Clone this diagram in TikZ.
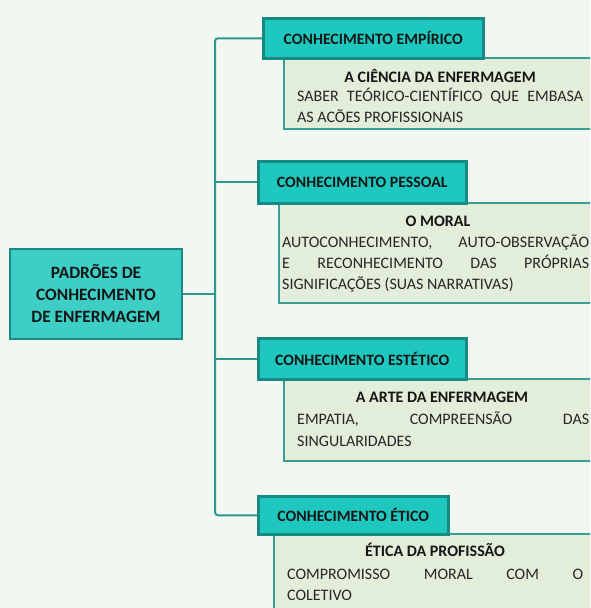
\documentclass[tikz,border=0pt]{standalone}
\usepackage{fontspec}
\setmainfont{Carlito}
\definecolor{bgc}{HTML}{F2F7F2}
\definecolor{tealfill}{HTML}{1FC8BF}
\definecolor{mainfill}{HTML}{3DCFC6}
\definecolor{tealline}{HTML}{168A83}
\definecolor{greenfill}{HTML}{E3EEDA}
\definecolor{greenline}{HTML}{3A9D94}
\definecolor{connc}{HTML}{2A9990}
\definecolor{inkdark}{HTML}{161616}
\definecolor{inkbody}{HTML}{262626}
\begin{document}
\begin{tikzpicture}[x=1pt,y=-1pt,
  mainbox/.style={draw=tealline, line width=2.5pt, fill=mainfill, inner sep=0pt,
    align=center, text=inkdark, font=\fontsize{17.3}{22}\selectfont\bfseries},
  headbox/.style={draw=tealline, line width=2.5pt, fill=tealfill, inner sep=0pt,
    text=inkdark, font=\fontsize{15.8}{18}\selectfont\bfseries},
  notebox/.style={draw=greenline, line width=2pt, fill=greenfill, inner sep=0pt},
  notetitle/.style={inner sep=0pt, anchor=base, text=inkdark,
    font=\fontsize{16}{18}\selectfont\bfseries},
  noteline/.style={inner sep=0pt, anchor=base west, text=inkbody,
    font=\fontsize{16}{18}\selectfont},
  conn/.style={draw=connc, line width=2pt}]

\path[use as bounding box, clip] (0,0) rectangle (590,608);
\fill[bgc] (0,0) rectangle (590,608);

% central topic
\node[mainbox, minimum width=172pt, minimum height=90pt] (main) at (96,294)
  {PADRÕES DE\\CONHECIMENTO\\DE ENFERMAGEM};

% note panels (drawn first so the headers sit on top of them)
\node[notebox, minimum width=315pt, minimum height=71pt, anchor=north west] (g1) at (283,57) {};
\node[notebox, minimum width=320pt, minimum height=100pt, anchor=north west] (g2) at (278,202) {};
\node[notebox, minimum width=315pt, minimum height=82pt, anchor=north west] (g3) at (283,378) {};
\node[notebox, minimum width=325pt, minimum height=90pt, anchor=north west] (g4) at (273,533) {};

% headers
\node[headbox, minimum width=220pt, minimum height=40pt, anchor=north west] (t1) at (262,17) {CONHECIMENTO EMPÍRICO};
\node[headbox, minimum width=208pt, minimum height=42pt, anchor=north west] (t2) at (257,160) {CONHECIMENTO PESSOAL};
\node[headbox, minimum width=208pt, minimum height=41pt, anchor=north west] (t3) at (257,337) {CONHECIMENTO ESTÉTICO};
\node[headbox, minimum width=190pt, minimum height=38pt, anchor=north west] (t4) at (257,495) {CONHECIMENTO ÉTICO};

% panel texts
\node[notetitle] (g1t) at (440,82.5) {A CIÊNCIA DA ENFERMAGEM};
\node[noteline] (g1a) at (297,101.5) {\makebox[286pt][s]{SABER TEÓRICO-CIENTÍFICO QUE EMBASA}};
\node[noteline] (g1b) at (297,122) {AS ACÕES PROFISSIONAIS};

\node[notetitle] (g2t) at (438,226.5) {O MORAL};
\node[noteline] (g2a) at (282,247) {\makebox[307pt][s]{AUTOCONHECIMENTO, AUTO-OBSERVAÇÃO}};
\node[noteline] (g2b) at (282,268) {\makebox[307pt][s]{E RECONHECIMENTO DAS PRÓPRIAS}};
\node[noteline] (g2c) at (282,289) {SIGNIFICAÇÕES (SUAS NARRATIVAS)};

\node[notetitle] (g3t) at (442,402.5) {A ARTE DA ENFERMAGEM};
\node[noteline] (g3a) at (297,424) {\makebox[292pt][s]{EMPATIA, COMPREENSÃO DAS}};
\node[noteline] (g3b) at (297,446) {SINGULARIDADES};

\node[notetitle] (g4t) at (435,556.5) {ÉTICA DA PROFISSÃO};
\node[noteline] (g4a) at (287,579) {\makebox[296pt][s]{COMPROMISSO MORAL COM O}};
\node[noteline] (g4b) at (287,600.5) {COLETIVO};

% connectors
\coordinate (tr) at (215,0);
\draw[conn, rounded corners=3pt] (t1.west) -- (t1.west -| tr) -- (t4.west -| tr) -- (t4.west);
\draw[conn] (tr |- t2.west) -- (t2.west);
\draw[conn] (tr |- t3.west) -- (t3.west);
\draw[conn] (main.east) -- (main.east -| tr);
\end{tikzpicture}
\end{document}
